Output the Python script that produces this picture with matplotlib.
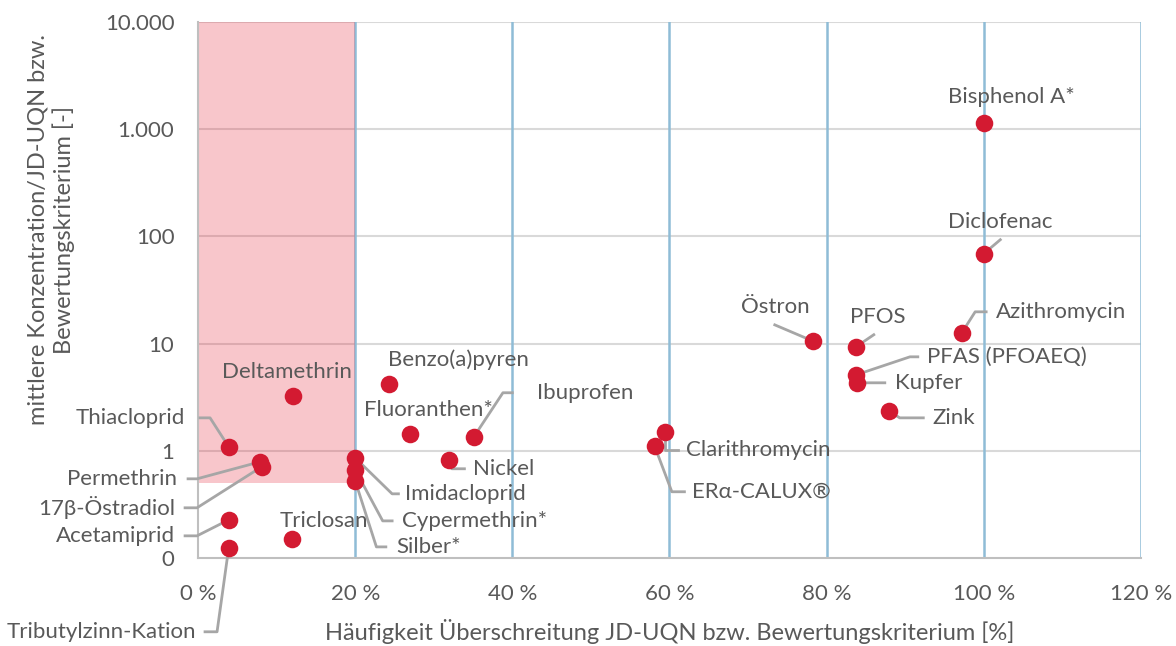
import numpy as np
import matplotlib
matplotlib.use("Agg")
from matplotlib import pyplot as plt
from matplotlib.patches import Rectangle

plt.rcParams['font.family'] = ['Lato', 'DejaVu Sans']

# substances, x = Häufigkeit [%], y = mittlere Konzentration / JD-UQN [-]
names = ["Bisphenol A*", "Diclofenac", "Östron", "PFOS", "Azithromycin",
         "PFAS (PFOAEQ)", "Kupfer", "Zink", "Clarithromycin", "ERα-CALUX®",
         "Ibuprofen", "Benzo(a)pyren", "Fluoranthen*", "Nickel",
         "Imidacloprid", "Cypermethrin*", "Silber*", "Deltamethrin",
         "Triclosan", "Thiacloprid", "Permethrin", "17β-Östradiol",
         "Acetamiprid", "Tributylzinn-Kation"]
freq = [100, 100, 78.2, 83.7, 97.2,
        83.7, 83.8, 87.9, 59.4, 58.1,
        35.1, 24.3, 27.0, 31.9,
        20, 20, 20, 12.1,
        12.0, 3.9, 7.9, 8.1,
        3.9, 3.9]
ratio = [1150, 69, 10.6, 9.3, 12.6,
         5.1, 4.3, 2.36, 1.5, 1.11,
         1.35, 4.2, 1.44, 0.82,
         0.86, 0.665, 0.525, 3.26,
         0.151, 1.09, 0.79, 0.71,
         0.227, 0.124]

# label placement: (text x, text y, ha, elbow x, leader end x) ; None = no leader
labels = [(95.4, 2005, 'left', None, None),
          (95.4, 137, 'left', 102.1, None),
          (69.1, 22.0, 'left', 73.4, None),
          (83.0, 17.8, 'left', 86.0, None),
          (101.6, 19.8, 'left', 98.9, 100.3),
          (92.8, 7.53, 'left', 90.6, 91.6),
          (88.7, 4.31, 'left', 85.5, 87.4),
          (93.5, 2.03, 'left', 89.3, 92.3),
          (62.1, 1.02, 'left', 59.4, 61.1),
          (62.9, 0.415, 'left', 60.3, 61.9),
          (43.1, 3.48, 'left', 38.8, 40.0),
          (24.2, 7.06, 'left', None, None),
          (21.1, 2.41, 'left', None, None),
          (35.0, 0.68, 'left', 32.3, 33.9),
          (26.3, 0.397, 'left', 24.7, 25.5),
          (26.0, 0.222, 'left', 23.5, 24.7),
          (25.2, 0.127, 'left', 22.7, 23.9),
          (3.05, 5.46, 'left', None, None),
          (10.4, 0.222, 'left', None, None),
          (-1.65, 2.03, 'right', 1.53, 0.25),
          (-2.67, 0.548, 'right', -0.13, -1.27),
          (-2.93, 0.294, 'right', -0.13, -1.65),
          (-2.93, 0.161, 'right', -0.13, -1.65),
          (-0.25, 0.0205, 'right', 2.42, 0.89)]

xticks = [0, 20, 40, 60, 80, 100, 120]
xticklabels = ["0 %", "20 %", "40 %", "60 %", "80 %", "100 %", "120 %"]
yticks = [0.1, 1, 10, 100, 1000, 10000]
yticklabels = ["0", "1", "10", "100", "1.000", "10.000"]

txt = '#595959'
fig = plt.figure(figsize=(11.76, 6.46), dpi=100)
ax = fig.add_axes([0.1684, 0.1362, 0.8018, 0.8297])
ax.set_yscale('log')
ax.set_xlim(0, 120)
ax.set_ylim(0.1, 10000)

for v in yticks[1:]:
    ax.axhline(v, color='#d9d9d9', lw=1.5, zorder=1)
for v in xticks[1:]:
    ax.axvline(v, color='#8fbcd6', lw=1.8, zorder=1)

ax.add_patch(Rectangle((0, 0.5), 20, 10000 - 0.5, facecolor=(0.9, 0.15, 0.22, 0.26),
                       edgecolor='none', zorder=2))

for s in ['top', 'right']:
    ax.spines[s].set_visible(False)
for s in ['left', 'bottom']:
    ax.spines[s].set_color('#bfbfbf')
    ax.spines[s].set_linewidth(1.5)

ax.scatter(freq, ratio, s=160, color='#d31a31', zorder=5, linewidths=0)

for name, x, y, (tx, ty, ha, ex, hx) in zip(names, freq, ratio, labels):
    ax.text(tx, ty, name, ha=ha, va='center', fontsize=16, color=txt,
            zorder=6, clip_on=False)
    if ex is None:
        continue
    if hx is None:
        ax.plot([x, ex], [y, ty * 0.68], color='#a6a6a6',
                lw=2, zorder=4, clip_on=False)
    else:
        ax.plot([x, ex, hx], [y, ty, ty], color='#a6a6a6', lw=2, zorder=4,
                clip_on=False)

ax.set_xticks(xticks)
ax.set_xticklabels(xticklabels)
ax.set_yticks(yticks)
ax.set_yticklabels(yticklabels)
ax.minorticks_off()
ax.tick_params(length=0, labelsize=16, labelcolor=txt)
ax.tick_params(axis='x', pad=19)
ax.tick_params(axis='y', pad=17)

ax.set_xlabel("Häufigkeit Überschreitung JD-UQN bzw. Bewertungskriterium [%]",
              fontsize=17, color=txt)
ax.xaxis.set_label_coords(0.5, -0.113)
ax.set_ylabel("mittlere Konzentration/JD-UQN bzw.\nBewertungskriterium [-]",
              fontsize=17, color=txt, linespacing=1.25)
ax.yaxis.set_label_coords(-0.13, 0.612)

plt.savefig("out.png", dpi=100)
